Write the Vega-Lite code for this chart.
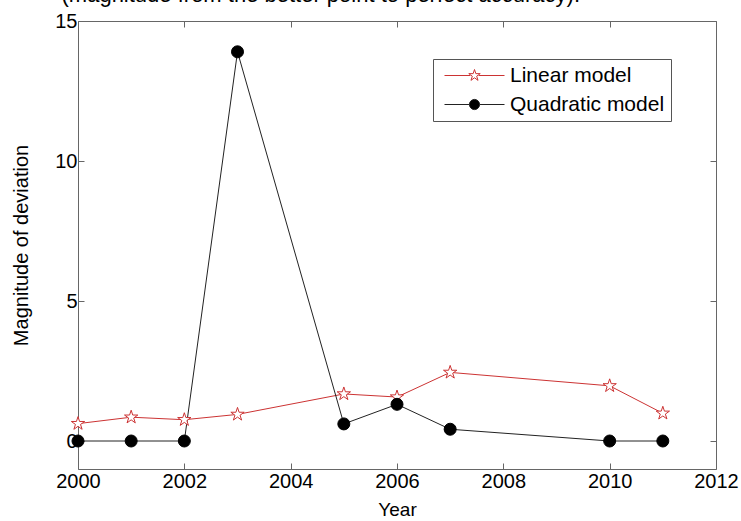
{
  "$schema": "https://vega.github.io/schema/vega-lite/v6.json",
  "width": 638,
  "height": 448,
  "autosize": {"type": "none"},
  "padding": {"left": 78, "top": 21, "right": 25, "bottom": 52},
  "background": "white",
  "title": {
    "text": "(magnitude from the better point to perfect accuracy).",
    "anchor": "end",
    "frame": "group",
    "dx": -136,
    "offset": 0,
    "dy": 13,
    "baseline": "alphabetic",
    "font": "Liberation Sans",
    "fontSize": 22,
    "fontWeight": "normal",
    "color": "black"
  },
  "config": {
    "view": {"stroke": null},
    "axis": {
      "labelFont": "Liberation Sans",
      "titleFont": "Liberation Sans",
      "labelFontSize": 20,
      "titleFontSize": 19,
      "titleFontWeight": "normal",
      "labelColor": "black",
      "titleColor": "black",
      "domainColor": "#666666",
      "tickColor": "#666666",
      "tickSize": -6,
      "grid": false
    }
  },
  "data": {
    "values": [
      {"year": 2000, "model": "Linear model", "value": 0.62},
      {"year": 2001, "model": "Linear model", "value": 0.85},
      {"year": 2002, "model": "Linear model", "value": 0.76},
      {"year": 2003, "model": "Linear model", "value": 0.95},
      {"year": 2005, "model": "Linear model", "value": 1.68},
      {"year": 2006, "model": "Linear model", "value": 1.57},
      {"year": 2007, "model": "Linear model", "value": 2.45},
      {"year": 2010, "model": "Linear model", "value": 1.97},
      {"year": 2011, "model": "Linear model", "value": 0.99},
      {"year": 2000, "model": "Quadratic model", "value": 0},
      {"year": 2001, "model": "Quadratic model", "value": 0},
      {"year": 2002, "model": "Quadratic model", "value": 0},
      {"year": 2003, "model": "Quadratic model", "value": 13.9},
      {"year": 2005, "model": "Quadratic model", "value": 0.61},
      {"year": 2006, "model": "Quadratic model", "value": 1.31},
      {"year": 2007, "model": "Quadratic model", "value": 0.42},
      {"year": 2010, "model": "Quadratic model", "value": 0},
      {"year": 2011, "model": "Quadratic model", "value": 0}
    ]
  },
  "resolve": {"axis": {"x": "independent", "y": "independent"}},
  "layer": [
    {
      "mark": {"type": "line", "strokeWidth": 1},
      "encoding": {
        "x": {
          "field": "year", "type": "quantitative",
          "scale": {"domain": [2000, 2012], "nice": false, "zero": false},
          "axis": {"orient": "bottom", "title": "Year", "values": [2000, 2002, 2004, 2006, 2008, 2010, 2012], "format": "d", "labelPadding": 8, "titlePadding": 9, "labelFlush": false, "labelOverlap": false}
        },
        "y": {
          "field": "value", "type": "quantitative",
          "scale": {"domain": [-1, 15], "nice": false, "zero": false},
          "axis": {"orient": "left", "title": "Magnitude of deviation", "titleFontSize": 20, "values": [0, 5, 10, 15], "labelPadding": 7, "titlePadding": 23}
        },
        "color": {
          "field": "model", "type": "nominal",
          "scale": {"domain": ["Linear model", "Quadratic model"], "range": ["#cc3333", "#222222"]},
          "legend": {
            "orient": "none",
            "legendX": 355,
            "legendY": 38,
            "title": null,
            "labelFont": "Liberation Sans",
            "labelFontSize": 21,
            "labelColor": "black",
            "strokeColor": "#555555",
            "fillColor": "white",
            "padding": 6,
            "rowPadding": 7,
            "symbolSize": 144,
            "symbolOffset": 25,
            "labelOffset": 25,
            "symbolStrokeWidth": 1,
            "encode": {
              "symbols": {
                "update": {
                  "shape": {"signal": "datum.value === 'Linear model' ? 'M0,-1L0.225,-0.309L0.951,-0.309L0.363,0.118L0.588,0.809L0,0.382L-0.588,0.809L-0.363,0.118L-0.951,-0.309L-0.225,-0.309Z M-5,0L-0.7,0M0.7,0L5,0' : 'M0.85,0A0.85,0.85,0,1,1,-0.85,0A0.85,0.85,0,1,1,0.85,0Z M-5,0L-0.85,0M0.85,0L5,0'"},
                  "fill": {"signal": "datum.value === 'Linear model' ? 'white' : 'black'"},
                  "stroke": {"signal": "datum.value === 'Linear model' ? '#cc3333' : '#999999'"},
                  "strokeWidth": {"value": 1},
                  "opacity": {"value": 1},
                  "fillOpacity": {"value": 1},
                  "strokeOpacity": {"value": 1}
                }
              }
            }
          }
        }
      }
    },
    {
      "transform": [{"filter": "datum.model === 'Linear model'"}],
      "mark": {"type": "point", "shape": "M0,-1L0.225,-0.309L0.951,-0.309L0.363,0.118L0.588,0.809L0,0.382L-0.588,0.809L-0.363,0.118L-0.951,-0.309L-0.225,-0.309Z", "size": 196, "fill": "white", "stroke": "#cc3333", "opacity": 1, "fillOpacity": 1, "strokeWidth": 1},
      "encoding": {
        "x": {
          "field": "year", "type": "quantitative",
          "axis": {"orient": "top", "title": null, "labels": false, "values": [2000, 2002, 2004, 2006, 2008, 2010, 2012]}
        },
        "y": {
          "field": "value", "type": "quantitative",
          "axis": {"orient": "right", "title": null, "labels": false, "values": [0, 5, 10, 15]}
        }
      }
    },
    {
      "transform": [{"filter": "datum.model === 'Quadratic model'"}],
      "mark": {"type": "point", "shape": "circle", "size": 144, "fill": "black", "stroke": "black", "opacity": 1, "fillOpacity": 1, "strokeWidth": 1},
      "encoding": {
        "x": {"field": "year", "type": "quantitative", "axis": null},
        "y": {"field": "value", "type": "quantitative", "axis": null}
      }
    }
  ]
}
